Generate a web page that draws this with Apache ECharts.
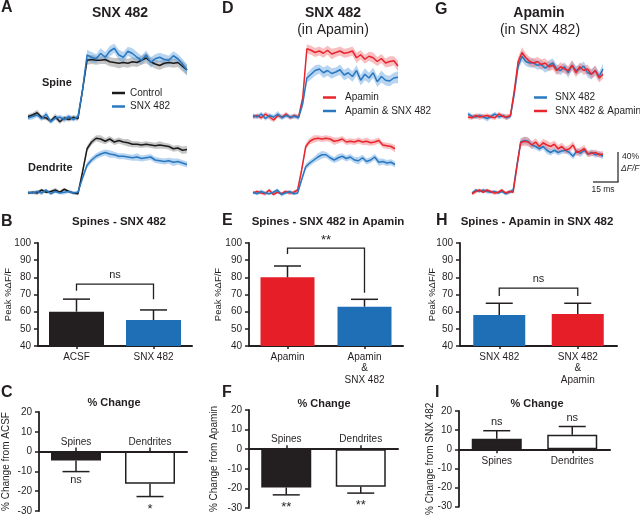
<!DOCTYPE html>
<html><head><meta charset="utf-8">
<script src="https://cdn.jsdelivr.net/npm/echarts@6/dist/echarts.min.js"></script>
<style>html,body{margin:0;padding:0;background:#fff}#c{width:640px;height:517px}</style>
</head><body><div id="c"></div>
<script>
// ---------- Trace data (% dF/F, one value per sample) ----------
const aSpineCtrl    = [2, 4, 7, 1, 0, -4, 2, -5, 0, -2, 1, -1, 37, 77, 78, 77, 77, 78, 75, 74, 73, 74, 73, 75, 74, 77, 80, 75, 72, 70, 73, 74, 73, 74, 69, 64];
const aSpineCtrlSem = [3, 3, 4, 3, 3, 3, 4, 3, 3, 3, 3, 3, 5, 6, 6, 6, 5, 6, 6, 6, 7, 6, 6, 6, 6, 6, 7, 6, 6, 6, 6, 6, 6, 6, 7, 7];
const aSpineSnx     = [0, 2, 4, -1, 5, -5, 0, 1, -2, 2, -2, 2, 37, 84, 81, 79, 86, 81, 89, 93, 84, 81, 89, 86, 81, 77, 84, 74, 79, 81, 78, 77, 83, 79, 72, 64];
const aSpineSnxSem  = [3, 4, 3, 3, 4, 3, 3, 3, 4, 3, 3, 3, 6, 7, 7, 6, 7, 7, 7, 6, 7, 7, 6, 7, 7, 6, 6, 7, 6, 6, 7, 6, 6, 6, 7, 7];
const aDendCtrl     = [0, 1, 0, 4, 1, 2, 4, 1, 5, 2, 0, -1, 28, 59, 68, 73, 72, 69, 72, 68, 70, 68, 67, 65, 65, 64, 65, 64, 63, 64, 63, 62, 59, 60, 57, 58];
const aDendCtrlSem  = [2, 2, 3, 2, 2, 2, 3, 2, 2, 2, 2, 2, 3, 4, 4, 4, 5, 4, 4, 4, 4, 4, 5, 4, 4, 4, 4, 4, 4, 5, 4, 4, 4, 4, 5, 5];
const aDendSnx      = [1, 0, 2, 0, 4, -1, 2, 0, 1, 2, 0, 1, 20, 37, 44, 49, 52, 54, 52, 51, 49, 49, 48, 47, 48, 46, 47, 48, 44, 43, 42, 43, 41, 42, 40, 38];
const aDendSnxSem   = [2, 2, 2, 3, 2, 2, 2, 2, 3, 2, 2, 2, 3, 4, 4, 4, 4, 4, 5, 4, 4, 4, 4, 4, 5, 4, 4, 4, 4, 4, 4, 4, 5, 4, 4, 4];

const dSpineApa       = [0, 2, -1, 4, 0, -4, 2, 0, 4, -1, 2, 0, 25, 91, 89, 86, 88, 85, 89, 84, 86, 88, 85, 86, 88, 79, 83, 77, 81, 79, 74, 78, 72, 74, 75, 68];
const dSpineApaSem    = [3, 3, 3, 3, 4, 3, 3, 3, 3, 3, 3, 3, 5, 6, 6, 6, 6, 6, 6, 7, 6, 6, 6, 6, 6, 7, 6, 6, 6, 7, 6, 6, 6, 7, 6, 7];
const dSpineApaSnx    = [2, 0, 4, -2, 2, 0, 4, -1, 2, 0, 1, -1, 18, 52, 57, 62, 64, 59, 62, 58, 60, 63, 56, 59, 54, 62, 49, 57, 52, 59, 47, 54, 49, 48, 52, 53];
const dSpineApaSnxSem = [3, 3, 3, 3, 3, 3, 4, 3, 3, 3, 3, 3, 5, 6, 7, 7, 6, 7, 7, 7, 6, 7, 7, 7, 7, 7, 7, 8, 7, 7, 7, 8, 7, 7, 7, 8];
const dDendApa        = [0, 2, 0, -1, 4, -2, 1, -1, 2, 0, 1, 4, 31, 62, 69, 72, 73, 72, 73, 72, 69, 70, 72, 68, 69, 68, 70, 68, 69, 67, 68, 70, 64, 63, 62, 59];
const dDendApaSem     = [2, 2, 2, 3, 2, 2, 2, 2, 2, 3, 2, 2, 4, 4, 4, 5, 4, 4, 4, 4, 5, 4, 4, 4, 4, 4, 4, 4, 5, 4, 4, 4, 4, 4, 4, 5];
const dDendApaSnx     = [1, -1, 2, 0, -1, 1, 4, -2, 0, 2, -1, 0, 18, 35, 40, 44, 48, 51, 51, 47, 44, 47, 49, 46, 48, 44, 43, 47, 42, 44, 48, 41, 42, 40, 41, 38];
const dDendApaSnxSem  = [2, 2, 3, 2, 2, 2, 2, 3, 2, 2, 2, 2, 3, 4, 4, 4, 5, 5, 4, 4, 4, 5, 4, 4, 4, 4, 5, 4, 4, 4, 4, 5, 4, 4, 4, 4];

const gSpineSnx       = [4, 1, 0, 2, 0, -2, 1, 4, 0, 2, -1, 1, 31, 68, 81, 74, 72, 72, 69, 70, 65, 69, 72, 64, 62, 67, 59, 69, 62, 64, 68, 59, 57, 62, 54, 64];
const gSpineSnxSem    = [3, 3, 3, 3, 3, 4, 3, 3, 3, 3, 3, 3, 5, 6, 7, 6, 6, 6, 6, 6, 6, 7, 6, 6, 6, 6, 7, 6, 6, 6, 6, 6, 7, 6, 6, 7];
const gSpineSnxApa    = [0, -1, 2, 0, 1, 2, 0, -1, 4, 1, 0, 2, 35, 74, 86, 79, 74, 72, 74, 70, 72, 67, 69, 62, 67, 64, 62, 69, 59, 67, 62, 64, 57, 62, 52, 57];
const gSpineSnxApaSem = [3, 3, 3, 4, 3, 3, 3, 3, 3, 3, 4, 3, 5, 6, 7, 6, 6, 6, 6, 7, 6, 6, 6, 6, 6, 6, 6, 7, 6, 6, 6, 6, 6, 7, 6, 6];
const gDendSnx        = [0, 4, 2, 4, 2, 1, 2, 0, 2, -1, 1, 4, 37, 68, 70, 69, 64, 62, 59, 62, 57, 54, 57, 54, 56, 57, 54, 49, 56, 53, 57, 52, 54, 51, 52, 49];
const gDendSnxSem     = [2, 2, 2, 2, 3, 2, 2, 2, 2, 2, 3, 2, 4, 5, 5, 5, 5, 4, 4, 4, 5, 4, 4, 4, 4, 4, 4, 4, 4, 5, 4, 4, 4, 4, 4, 4];
const gDendSnxApa     = [-1, 2, 4, 1, 4, 2, 0, 1, 4, 0, 2, 1, 35, 67, 69, 68, 64, 68, 62, 67, 64, 62, 65, 59, 62, 57, 59, 64, 54, 56, 59, 52, 53, 54, 51, 52];
const gDendSnxApaSem  = [2, 3, 2, 2, 2, 2, 3, 2, 2, 2, 2, 2, 4, 5, 6, 6, 5, 5, 5, 5, 6, 5, 5, 5, 5, 5, 5, 5, 5, 5, 5, 4, 4, 4, 4, 4];

// ---------- Bar data ----------
const bCats = ['ACSF', 'SNX 482'];
const bMean = [60, 55.1];
const bSem  = [7.3, 5.9];
const bBracket = [0, 1, 76, 72.2, 67.2, 81.3]; // from, to, top, left leg end, right leg end, label y
const bSig = 'ns';

const eCats = ['Apamin', 'Apamin\n&\nSNX 482'];
const eMean = [80, 62.9];
const eSem  = [6.6, 4.3];
const eBracket = [0, 1, 97, 93.6, 71, 102.3];
const eSig = '**';

const hCats = ['SNX 482', 'SNX 482\n&\nApamin'];
const hMean = [58, 58.6];
const hSem  = [6.9, 6.3];
const hBracket = [0, 1, 73.7, 69.1, 69.1, 79];
const hSig = 'ns';

const changeCats = ['Spines', 'Dendrites'];
const cMean = [-4.5, -16.3];
const cSem  = [5.6, 6.4];
const cSig  = ['ns', '*'];
const fMean = [-19.6, -19.2];
const fSem  = [3.7, 3.2];
const fSig  = ['**', '**'];
const iMean = [5.5, 7.6];
const iSem  = [4.2, 4.3];
const iSig  = ['ns', 'ns'];

// ---------- Styles ----------
const FONT = '"Liberation Sans", Arial, Helvetica, sans-serif';
const INK = '#231f20';
const BLUE = '#1f6fb7';
const RED = '#e61e27';
const T_BLACK = '#1b1b1b', T_BLUE = '#2a78c0', T_RED = '#e8262e';
const B_GRAY = 'rgba(120,120,120,0.42)', B_BLUE = 'rgba(95,160,225,0.45)', B_RED = 'rgba(242,110,115,0.45)';

const traceGrids = [
  {left: 28,  top: 43,  width: 159, height: 90},
  {left: 28,  top: 118, width: 159, height: 90},
  {left: 253, top: 42,  width: 145, height: 90},
  {left: 253, top: 118, width: 142, height: 90},
  {left: 468, top: 42,  width: 135, height: 90},
  {left: 472, top: 118, width: 131, height: 90}
];
const traces = [
  {g: 0, mean: aSpineCtrl, sem: aSpineCtrlSem, name: 'Control', c: T_BLACK, b: B_GRAY},
  {g: 0, mean: aSpineSnx, sem: aSpineSnxSem, name: 'SNX 482', c: T_BLUE, b: B_BLUE},
  {g: 1, mean: aDendCtrl, sem: aDendCtrlSem, name: 'Control', c: T_BLACK, b: B_GRAY},
  {g: 1, mean: aDendSnx, sem: aDendSnxSem, name: 'SNX 482', c: T_BLUE, b: B_BLUE},
  {g: 2, mean: dSpineApa, sem: dSpineApaSem, name: 'Apamin', c: T_RED, b: B_RED},
  {g: 2, mean: dSpineApaSnx, sem: dSpineApaSnxSem, name: 'Apamin & SNX 482', c: T_BLUE, b: B_BLUE},
  {g: 3, mean: dDendApa, sem: dDendApaSem, name: 'Apamin', c: T_RED, b: B_RED},
  {g: 3, mean: dDendApaSnx, sem: dDendApaSnxSem, name: 'Apamin & SNX 482', c: T_BLUE, b: B_BLUE},
  {g: 4, mean: gSpineSnx, sem: gSpineSnxSem, name: 'SNX 482', c: T_BLUE, b: B_BLUE},
  {g: 4, mean: gSpineSnxApa, sem: gSpineSnxApaSem, name: 'SNX 482 & Apamin', c: T_RED, b: B_RED},
  {g: 5, mean: gDendSnx, sem: gDendSnxSem, name: 'SNX 482', c: T_BLUE, b: B_BLUE},
  {g: 5, mean: gDendSnxApa, sem: gDendSnxApaSem, name: 'SNX 482 & Apamin', c: T_RED, b: B_RED}
];

const barPanels = [
  {grid: {left: 38, top: 243, width: 154, height: 103}, cats: bCats, mean: bMean, sem: bSem, colors: [INK, BLUE], bracket: bBracket, sig: bSig, nameGap: 25, barWidth: 55},
  {grid: {left: 249, top: 243, width: 154, height: 103}, cats: eCats, mean: eMean, sem: eSem, colors: [RED, BLUE], bracket: eBracket, sig: eSig, nameGap: 26, barWidth: 54},
  {grid: {left: 460, top: 243, width: 157, height: 103}, cats: hCats, mean: hMean, sem: hSem, colors: [BLUE, RED], bracket: hBracket, sig: hSig, nameGap: 23, barWidth: 52}
];
const changePanels = [
  {grid: {left: 38.5, top: 412, width: 148.5, height: 99}, mean: cMean, sem: cSem, sig: cSig, name: '% Change from ACSF', nameGap: 28, above: true},
  {grid: {left: 249, top: 410, width: 149, height: 98}, mean: fMean, sem: fSem, sig: fSig, name: '% Change from Apamin', nameGap: 30, above: true},
  {grid: {left: 459, top: 411, width: 151, height: 98}, mean: iMean, sem: iSem, sig: iSig, name: '% Change from SNX 482', nameGap: 24, above: false}
];

// ---------- Build option ----------
const grids = [], xAxes = [], yAxes = [], series = [];
const lineSeries = [];
traceGrids.forEach((g, i) => {
  grids.push(g);
  xAxes.push({gridIndex: i, type: 'category', data: aSpineCtrl.map((_, k) => k), boundaryGap: false, show: false});
  yAxes.push({gridIndex: i, type: 'value', min: -20, max: 100, show: false});
});
traces.forEach((t, k) => {
  const st = 'band' + k;
  series.push({type: 'line', xAxisIndex: t.g, yAxisIndex: t.g, data: t.mean.map((v, i) => v - t.sem[i]),
    stack: st, stackStrategy: 'all', symbol: 'none', lineStyle: {opacity: 0}, silent: true, z: 1});
  series.push({type: 'line', xAxisIndex: t.g, yAxisIndex: t.g, data: t.sem.map(s => 2 * s),
    stack: st, stackStrategy: 'all', symbol: 'none', lineStyle: {opacity: 0}, areaStyle: {color: t.b, opacity: 1}, silent: true, z: 1});
  lineSeries.push({type: 'line', name: t.name, xAxisIndex: t.g, yAxisIndex: t.g, data: t.mean, symbol: 'none',
    color: t.c, itemStyle: {color: t.c}, lineStyle: {color: t.c, width: 1.5}, z: 2});
});
series.push(...lineSeries);

function textStyle(s, size) {
  return {text: s, fontSize: size, fontFamily: FONT, fill: INK,
    align: 'center', verticalAlign: 'middle', textAlign: 'center', textVerticalAlign: 'middle'};
}
function errRender(sigs) {
  return function (params, api) {
    const b = api.coord([api.value(0), api.value(1)]);
    const e = api.coord([api.value(0), api.value(2)]);
    const x = b[0];
    const kids = [
      {type: 'line', shape: {x1: x, y1: b[1], x2: x, y2: e[1]}, style: {stroke: INK, lineWidth: 1.5}},
      {type: 'line', shape: {x1: x - 13.5, y1: e[1], x2: x + 13.5, y2: e[1]}, style: {stroke: INK, lineWidth: 1.5}}
    ];
    if (sigs) {
      const s = sigs[params.dataIndex];
      const down = e[1] > b[1];
      const star = s.indexOf('*') >= 0;
      const y = down ? e[1] + (star ? 12.5 : 8) : e[1] - 9;
      kids.push({type: 'text', x: x, y: y, style: textStyle(s, star ? 13 : 11)});
    }
    return {type: 'group', children: kids};
  };
}
function bracketRender(sig) {
  return function (params, api) {
    const p0 = api.coord([api.value(0), api.value(2)]);
    const p1 = api.coord([api.value(1), api.value(2)]);
    const l = api.coord([api.value(0), api.value(3)]);
    const r = api.coord([api.value(1), api.value(4)]);
    const ty = api.coord([api.value(0), api.value(5)])[1];
    const star = sig.indexOf('*') >= 0;
    return {type: 'group', children: [
      {type: 'polyline', shape: {points: [[l[0], l[1]], [p0[0], p0[1]], [p1[0], p1[1]], [r[0], r[1]]]}, style: {stroke: INK, lineWidth: 1.3, fill: null}},
      {type: 'text', x: (p0[0] + p1[0]) / 2, y: ty + (star ? 1.5 : 0), style: textStyle(sig, star ? 13 : 11)}
    ]};
  };
}
function catLabelRender(above) {
  return function (params, api) {
    const p = api.coord([api.value(0), 0]);
    return {type: 'text', x: p[0], y: p[1] + (above ? -9.5 : 11.5), style: textStyle(changeCats[params.dataIndex], 10)};
  };
}

const axisLineStyle = {color: INK, width: 1.8};
barPanels.forEach((p) => {
  const gi = grids.length;
  grids.push(p.grid);
  xAxes.push({gridIndex: gi, type: 'category', data: p.cats,
    axisLine: {show: true, lineStyle: {color: INK, width: 2}},
    axisTick: {show: true, alignWithLabel: true, length: 3, lineStyle: {color: INK, width: 1.5}},
    axisLabel: {color: INK, fontSize: 10, fontFamily: FONT, margin: 5, lineHeight: 11.5, interval: 0},
    splitLine: {show: false}});
  yAxes.push({gridIndex: gi, type: 'value', min: 40, max: 100, interval: 10,
    axisLine: {show: true, lineStyle: axisLineStyle},
    axisTick: {show: true, length: 4, lineStyle: {color: INK, width: 1.5}},
    axisLabel: {color: INK, fontSize: 10, fontFamily: FONT, margin: 7},
    splitLine: {show: false},
    name: 'Peak %ΔF/F', nameLocation: 'middle', nameGap: p.nameGap, nameMoveOverlap: false,
    nameTextStyle: {color: INK, fontSize: 9.5, fontFamily: FONT}});
  series.push({type: 'bar', xAxisIndex: gi, yAxisIndex: gi, barWidth: p.barWidth,
    data: p.mean.map((v, i) => ({value: v, itemStyle: {color: p.colors[i]}}))});
  series.push({type: 'custom', xAxisIndex: gi, yAxisIndex: gi, renderItem: errRender(null),
    data: p.mean.map((v, i) => [i, v, v + p.sem[i]]), encode: {x: 0, y: [1, 2]}, z: 3, silent: true});
  series.push({type: 'custom', xAxisIndex: gi, yAxisIndex: gi, renderItem: bracketRender(p.sig),
    data: [p.bracket], encode: {x: [0, 1], y: [2, 3, 4, 5]}, z: 3, silent: true});
});

changePanels.forEach((p) => {
  const gi = grids.length;
  grids.push(p.grid);
  xAxes.push({gridIndex: gi, type: 'category', data: changeCats,
    axisLine: {show: true, onZero: true, lineStyle: {color: INK, width: 2}},
    axisTick: {show: true, alignWithLabel: true, inside: p.above, length: 4, lineStyle: {color: INK, width: 1.5}},
    axisLabel: {show: false},
    splitLine: {show: false}});
  yAxes.push({gridIndex: gi, type: 'value', min: -30, max: 20, interval: 10,
    axisLine: {show: true, lineStyle: axisLineStyle},
    axisTick: {show: true, length: 4, lineStyle: {color: INK, width: 1.5}},
    axisLabel: {color: INK, fontSize: 10, fontFamily: FONT, margin: 7},
    splitLine: {show: false},
    name: p.name, nameLocation: 'middle', nameGap: p.nameGap, nameMoveOverlap: false,
    nameTextStyle: {color: INK, fontSize: 10, fontFamily: FONT}});
  series.push({type: 'bar', xAxisIndex: gi, yAxisIndex: gi, barWidth: 50,
    data: p.mean.map((v, i) => ({value: v, itemStyle: i === 0 ? {color: INK, borderColor: INK, borderWidth: 1.5} : {color: '#ffffff', borderColor: INK, borderWidth: 1.5}}))});
  series.push({type: 'custom', xAxisIndex: gi, yAxisIndex: gi, renderItem: errRender(p.sig),
    data: p.mean.map((v, i) => [i, v, v < 0 ? v - p.sem[i] : v + p.sem[i]]), encode: {x: 0, y: [1, 2]}, z: 3, silent: true});
  series.push({type: 'custom', xAxisIndex: gi, yAxisIndex: gi, renderItem: catLabelRender(p.above),
    data: changeCats.map((_, i) => [i, 0]), encode: {x: 0, y: 1}, z: 4, silent: true});
});

// ---------- Text / annotations ----------
function txt(text, x, y, size, opts) {
  opts = opts || {};
  return {type: 'text', x: x, y: y, silent: true, style: {text: text, fontSize: size, fontFamily: FONT,
    fontWeight: opts.bold ? 'bold' : 'normal', fontStyle: opts.italic ? 'italic' : 'normal', fill: INK,
    align: opts.align || 'left', verticalAlign: 'middle', textAlign: opts.align || 'left', textVerticalAlign: 'middle'}};
}
const graphics = [
  txt('A', 1, 8, 16, {bold: true}), txt('D', 222, 9, 16, {bold: true}), txt('G', 435, 10, 16, {bold: true}),
  txt('B', 1, 222, 16, {bold: true}), txt('E', 222, 221, 16, {bold: true}), txt('H', 436, 221, 16, {bold: true}),
  txt('C', 1, 393, 16, {bold: true}), txt('F', 222, 393, 16, {bold: true}), txt('I', 435, 393, 16, {bold: true}),
  txt('SNX 482', 120, 13, 14, {bold: true, align: 'center'}),
  txt('SNX 482', 333, 13, 14, {bold: true, align: 'center'}),
  txt('(in Apamin)', 333, 30, 14, {align: 'center'}),
  txt('Apamin', 539, 13, 14, {bold: true, align: 'center'}),
  txt('(in SNX 482)', 540, 30, 14, {align: 'center'}),
  txt('Spine', 42, 83, 11, {bold: true}),
  txt('Dendrite', 28, 168, 11, {bold: true}),
  txt('Spines - SNX 482', 119, 222, 11.5, {bold: true, align: 'center'}),
  txt('Spines - SNX 482 in Apamin', 328, 222, 11.5, {bold: true, align: 'center'}),
  txt('Spines - Apamin in SNX 482', 537, 222, 11.5, {bold: true, align: 'center'}),
  txt('% Change', 114, 403, 11, {bold: true, align: 'center'}),
  txt('% Change', 324, 404, 11, {bold: true, align: 'center'}),
  txt('% Change', 537, 404, 11, {bold: true, align: 'center'}),
  {type: 'line', silent: true, shape: {x1: 618, y1: 152, x2: 618, y2: 182}, style: {stroke: INK, lineWidth: 1.2}},
  {type: 'line', silent: true, shape: {x1: 593, y1: 182, x2: 618.6, y2: 182}, style: {stroke: INK, lineWidth: 1.2}},
  txt('40%', 622, 157, 8.5), txt('ΔF/F', 621, 169, 8.5, {italic: true}),
  txt('15 ms', 603, 190, 8.5, {align: 'center'})
];

const legendCommon = {orient: 'vertical', icon: 'rect', itemWidth: 13, itemHeight: 2.5, itemGap: 1.5, padding: 0,
  selectedMode: false};
const legendText = {fontSize: 10, color: INK, fontFamily: FONT, lineHeight: 12};

const option = {
  animation: false,
  backgroundColor: '#ffffff',
  textStyle: {fontFamily: FONT},
  legend: [
    Object.assign({left: 112, top: 87, data: ['Control', 'SNX 482'], textStyle: legendText}, legendCommon),
    Object.assign({left: 323, top: 91.5, data: ['Apamin', 'Apamin & SNX 482'], textStyle: Object.assign({padding: [0, 0, 0, 4]}, legendText)}, legendCommon),
    Object.assign({left: 534, top: 91.5, data: ['SNX 482', 'SNX 482 & Apamin'], textStyle: Object.assign({padding: [0, 0, 0, 3]}, legendText)}, legendCommon)
  ],
  grid: grids,
  xAxis: xAxes,
  yAxis: yAxes,
  series: series,
  graphic: graphics
};
const chart = echarts.init(document.getElementById('c'), null, {renderer: 'canvas'});
chart.setOption(option);
</script></body></html>
